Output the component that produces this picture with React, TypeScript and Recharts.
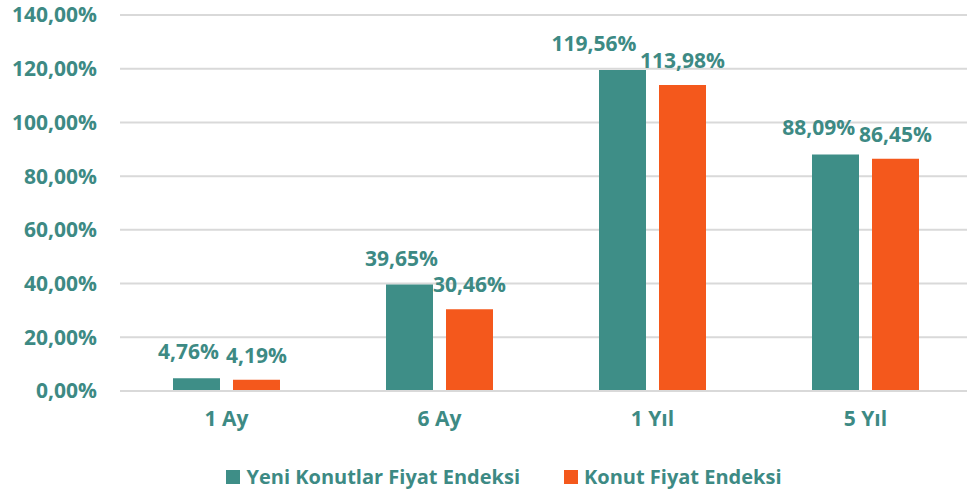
import React from 'react';
import {
  BarChart,
  Bar,
  XAxis,
  YAxis,
  CartesianGrid,
  Legend,
  LabelList
} from 'recharts';

const periods = ['1 Ay', '6 Ay', '1 Yıl', '5 Yıl'];
const yeniKonutlar = [4.76, 39.65, 119.56, 88.09];
const konutFiyat = [4.19, 30.46, 113.98, 86.45];
const yTicks = [0, 20, 40, 60, 80, 100, 120, 140];

const TEAL = '#3e8e87';
const ORANGE = '#f4581c';
const TEXT = '#3d8a84';
const FONT = '"Open Sans", sans-serif';
const FS = 21;
const BAR_GAP = 13;
const CHAR_W = 11.8;

const fmt = (v: number) => v.toFixed(2).replace('.', ',') + '%';

const chartData = periods.map((p, i) => ({
  period: p,
  yeni: yeniKonutlar[i],
  konut: konutFiyat[i]
}));

// teal labels get nudged left when they'd collide with the orange one
const TealLabel = (props: any) => {
  const { x, y, width, height, value, index } = props;
  const barCenter = x + width / 2;
  const pxPer = height / value;
  const rise = (value - konutFiyat[index]) * pxPer;
  const tealW = fmt(value).length * CHAR_W;
  const orangeW = fmt(konutFiyat[index]).length * CHAR_W;
  let cx = barCenter - 8;
  if (rise < 20) {
    const orangeCenter = barCenter + width + BAR_GAP;
    cx = Math.min(cx, orangeCenter - orangeW / 2 - tealW / 2 - 6);
  }
  return (
    <text
      x={cx}
      y={y - 19}
      textAnchor="middle"
      fill={TEXT}
      fontSize={FS}
      fontWeight={700}
      fontFamily={FONT}
    >
      {fmt(value)}
    </text>
  );
};

const LegendContent = () => (
  <div
    style={{
      display: 'flex',
      justifyContent: 'center',
      alignItems: 'flex-end',
      paddingLeft: 36,
      height: 45,
      lineHeight: '27px',
      fontFamily: FONT,
      fontWeight: 700,
      fontSize: 20,
      color: TEXT
    }}
  >
    <span style={{ display: 'flex', alignItems: 'center', marginRight: 44 }}>
      <span style={{ width: 14, height: 14, background: TEAL, marginRight: 6 }} />
      Yeni Konutlar Fiyat Endeksi
    </span>
    <span style={{ display: 'flex', alignItems: 'center' }}>
      <span style={{ width: 14, height: 14, background: ORANGE, marginRight: 6 }} />
      Konut Fiyat Endeksi
    </span>
  </div>
);

export default function App() {
  const tickStyle = { fill: TEXT, fontSize: FS, fontWeight: 700, fontFamily: FONT };

  return (
    <div style={{ position: 'absolute', left: 0, top: 0, width: 967, height: 490, overflow: 'hidden', background: '#fff' }}>
      <BarChart
        width={972}
        height={490}
        data={chartData}
        margin={{ top: 15, right: 0, left: 0, bottom: 4 }}
        barSize={47}
        barGap={BAR_GAP}
      >
        <CartesianGrid vertical={false} stroke="#d9d9d9" strokeWidth={2} />
        <XAxis
          dataKey="period"
          height={50}
          axisLine={{ stroke: '#d9d9d9', strokeWidth: 2 }}
          tickLine={false}
          tickSize={0}
          tickMargin={20}
          tick={tickStyle}
          fontSize={FS}
          fontWeight={700}
          fontFamily={FONT}
        />
        <YAxis
          width={120}
          domain={[0, 140]}
          ticks={yTicks}
          tickFormatter={fmt}
          axisLine={false}
          tickLine={false}
          tickSize={0}
          tickMargin={23}
          tick={tickStyle}
          fontSize={FS}
          fontWeight={700}
          fontFamily={FONT}
        />
        <Legend
          verticalAlign="bottom"
          height={45}
          wrapperStyle={{ bottom: 0 }}
          content={<LegendContent />}
        />
        <Bar dataKey="yeni" fill={TEAL} isAnimationActive={false}>
          <LabelList dataKey="yeni" content={<TealLabel />} />
        </Bar>
        <Bar dataKey="konut" fill={ORANGE} isAnimationActive={false}>
          <LabelList
            dataKey="konut"
            position="top"
            offset={17}
            formatter={fmt}
            style={{ fill: TEXT, fontSize: FS, fontWeight: 700, fontFamily: FONT }}
          />
        </Bar>
      </BarChart>
    </div>
  );
}
